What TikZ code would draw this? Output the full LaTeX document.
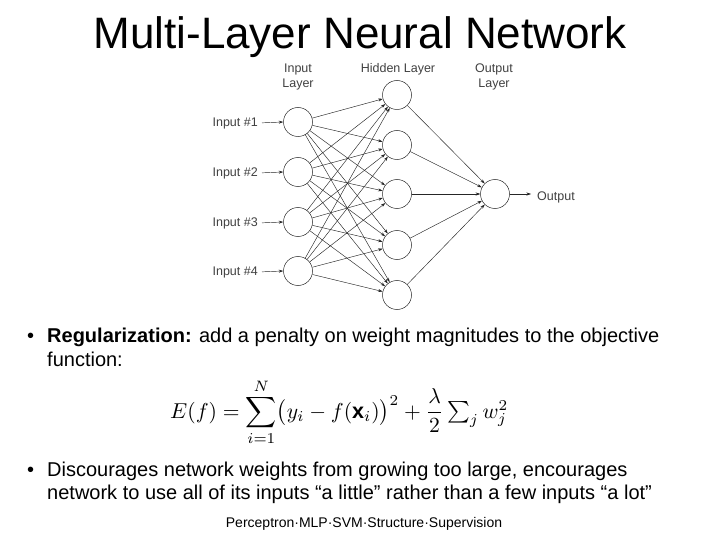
\documentclass[tikz,border=0pt]{standalone}
\usepackage{fontspec}
\setmainfont{Liberation Sans}
\usetikzlibrary{arrows.meta}
\begin{document}
\begin{tikzpicture}[x=1pt,y=-1pt,
  neuron/.style={circle,draw=black!85,line width=0.5pt,minimum size=29pt,inner sep=0pt},
  netlabel/.style={font=\fontsize{12.5}{14}\selectfont,text=black!75,inner sep=0pt},
  conn/.style={line width=0.45pt,draw=black!85,-{Stealth[length=4.5pt,width=3pt]}},
  bodytext/.style={font=\fontsize{20}{24}\selectfont,anchor=base west,inner sep=0pt}]
\useasboundingbox (0,0) rectangle (720,540);
% title
\node[anchor=base,inner sep=0pt,font=\fontsize{44}{50}\selectfont] (title) at (360,49) {Multi-Layer Neural Network};
% layers
\foreach \i/\y in {1/122,2/172,3/222,4/271} {
  \node[neuron] (in\i) at (298,\y) {};
  \node[netlabel,anchor=east] (lin\i) at (258,\y+1) {Input \#\i};
  \draw[conn,shorten <=4pt] (lin\i.east) -- (in\i.west);
}
\foreach \j/\y in {1/95,2/145,3/194,4/245,5/295} {
  \node[neuron] (h\j) at (397,\y) {};
}
\node[neuron] (out) at (495,194) {};
\node[netlabel,anchor=west] (lout) at (537,197) {Output};
\draw[conn,shorten >=6pt] (out.east) -- (lout.west |- out.east);
\foreach \i in {1,...,4} {
  \foreach \j in {1,...,5} {
    \draw[conn] (in\i) -- (h\j);
  }
}
\foreach \j in {1,...,5} {
  \draw[conn] (h\j) -- (out);
}
\node[netlabel,anchor=base] (linl) at (298,73) {Input};
\node[netlabel,anchor=base] (linl2) at (298,88) {Layer};
\node[netlabel,anchor=base] (lhid) at (398,73) {Hidden Layer};
\node[netlabel,anchor=base] (loutl) at (494,73) {Output};
\node[netlabel,anchor=base] (loutl2) at (494,88) {Layer};
% bullets
\node[bodytext] (b1) at (27,342) {•};
\node[bodytext] (t1a) at (47,342) {\textbf{Regularization:} add a penalty on weight magnitudes to the objective};
\node[bodytext] (t1b) at (47,366) {function:};
\node[anchor=base west,inner sep=0pt] (eq) at (170,418) {\resizebox{338pt}{!}{$\displaystyle E(f)=\sum_{i=1}^{N}\bigl(y_i-f(\mathbf{x}_i)\bigr)^2+\frac{\lambda}{2}\textstyle\sum_j w_j^2$}};
\node[bodytext] (b2) at (27,476) {•};
\node[bodytext] (t2a) at (47,476) {Discourages network weights from growing too large, encourages};
\node[bodytext] (t2b) at (47,499) {network to use all of its inputs “a little” rather than a few inputs “a lot”};
\node[anchor=base,inner sep=0pt,font=\fontsize{14}{16}\selectfont] (foot) at (364,527) {Perceptron·MLP·SVM·Structure·Supervision};
\end{tikzpicture}
\end{document}
